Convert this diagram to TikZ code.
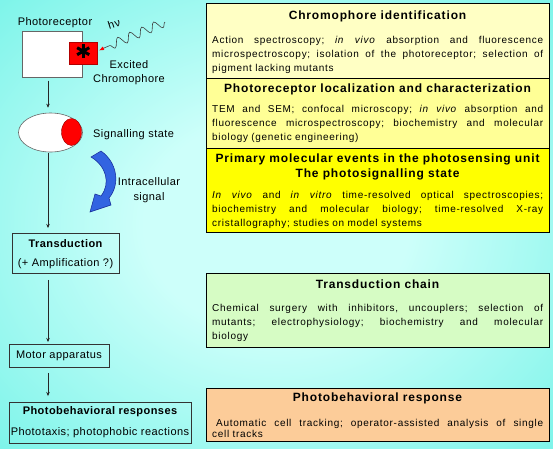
\documentclass[tikz,border=0pt]{standalone}
\usepackage{fontspec}
\setmainfont{Liberation Sans}[LetterSpace=4]
\newfontfamily\bodyfont{Liberation Sans}[LetterSpace=7]
\usetikzlibrary{shapes.geometric,arrows.meta,decorations.pathmorphing,calc}
\definecolor{bgdark}{RGB}{60,235,220}
\definecolor{bglight}{RGB}{205,255,250}
\definecolor{yel1}{RGB}{255,255,196}
\definecolor{yel2}{RGB}{255,255,150}
\definecolor{yel3}{RGB}{255,255,0}
\definecolor{grn}{RGB}{214,252,196}
\definecolor{peach}{RGB}{252,204,153}
\definecolor{arrblue}{RGB}{50,100,225}
\definecolor{arrdark}{RGB}{20,40,150}
\pgfdeclareradialshading{bgsh}{\pgfpoint{0bp}{0bp}}{color(0bp)=(bglight); color(12bp)=(bglight); color(55bp)=(bgdark); color(75bp)=(bgdark)}
\newcommand{\jl}[1]{\leavevmode\hbox to 331pt{#1}}
\newcommand{\wsp}{\hspace{0pt plus 1fill}\ }
\begin{document}
\begin{tikzpicture}[x=1pt,y=-1pt,
 rbox/.style={draw=black, line width=0.8pt, anchor=north west, minimum width=343pt, inner sep=0pt},
 lbox/.style={draw=black!80, line width=0.8pt, anchor=north west, inner sep=0pt},
 ttl/.style={font=\bodyfont\fontsize{12}{14}\selectfont\bfseries, inner sep=0pt, anchor=base},
 bodytxt/.style={font=\bodyfont\fontsize{10}{14}\selectfont, inner sep=0pt, anchor=north west, text width=331pt, align=left},
 lbl/.style={font=\fontsize{11}{14}\selectfont, inner sep=0pt},
 arr/.style={draw=black!85, line width=0.6pt, -{Stealth[length=4pt,width=3.5pt]}}]
\shade[shading=bgsh] (0,0) rectangle (553,448);
\useasboundingbox (0,0) rectangle (553,448);
% right boxes
\node[rbox, fill=yel1, minimum height=75pt] (b1) at (206,3) {};
\node[rbox, fill=yel2, minimum height=70pt] (b2) at (206,78) {};
\node[rbox, fill=yel3, minimum height=84pt] (b3) at (206,148) {};
\node[rbox, fill=grn, minimum height=74pt] (b4) at (206,273) {};
\node[rbox, fill=peach, minimum height=53pt] (b5) at (206,388) {};
\node[ttl] (t1) at (377.5,19.5) {Chromophore identification};
\node[ttl] (t2) at (377.5,92.5) {Photoreceptor localization and characterization};
\node[ttl] (t3a) at (377.5,162.5) {Primary molecular events in the photosensing unit};
\node[ttl] (t3b) at (377.5,177.5) {The photosignalling state};
\node[ttl] (t4) at (377.5,288.5) {Transduction chain};
\node[ttl] (t5) at (377.5,401.5) {Photobehavioral response};
\node[bodytxt] (x1) at (212,36) {\jl{Action\wsp spectroscopy;\wsp \textit{in}\wsp \textit{vivo}\wsp absorption\wsp and\wsp fluorescence}\\\jl{microspectroscopy;\wsp isolation\wsp of\wsp the\wsp photoreceptor;\wsp selection\wsp of}\\pigment lacking mutants};
\node[bodytxt] (x2) at (212,105) {\jl{TEM\wsp and\wsp SEM;\wsp confocal\wsp microscopy;\wsp \textit{in}\wsp \textit{vivo}\wsp absorption\wsp and}\\\jl{fluorescence\wsp microspectroscopy;\wsp biochemistry\wsp and\wsp molecular}\\biology (genetic engineering)};
\node[bodytxt] (x3) at (212,191) {\jl{\textit{In}\wsp \textit{vivo}\wsp and\wsp \textit{in}\wsp \textit{vitro}\wsp time-resolved\wsp optical\wsp spectroscopies;}\\\jl{biochemistry\wsp and\wsp molecular\wsp biology;\wsp time-resolved\wsp X-ray}\\cristallography; studies on model systems};
\node[bodytxt] (x4) at (212,304) {\jl{Chemical\wsp surgery\wsp with\wsp inhibitors,\wsp uncouplers;\wsp selection\wsp of}\\\jl{mutants;\wsp electrophysiology;\wsp biochemistry\wsp and\wsp molecular}\\biology};
\node[bodytxt, font=\bodyfont\fontsize{10}{11.5}\selectfont] (x5) at (212,419) {\leavevmode\hspace*{4pt}\hbox to 327pt{Automatic\wsp cell\wsp tracking;\wsp operator-assisted\wsp analysis\wsp of\wsp single}\\cell tracks};
% left side
\node[lbl] (lphr) at (55,23) {Photoreceptor};
\node[draw=black!60, fill=white, line width=0.6pt, minimum width=60pt, minimum height=46pt, anchor=north west, inner sep=0pt] (prec) at (22,31) {};
\node[fill=red, draw=red!70!black, line width=0.4pt, minimum width=28pt, minimum height=22pt, inner sep=0pt, anchor=north west] (chro) at (69,42) {};
\coordinate (ast) at ($(chro.center)+(0,-2)$);
\foreach \a in {90,30,150} \draw[line width=3pt, black] ($(ast)+(\a:7)$) -- ($(ast)+(\a+180:7)$);
\coordinate (wv1) at (165,22);
\coordinate (wv0) at (104,48);
\coordinate (wvtip) at (99,50.5);
\draw[gray!50!black, line width=0.6pt, decorate, decoration={snake, amplitude=4.5pt, segment length=13pt}] (wv1) -- (wv0);
\draw[red, line width=0.8pt, -{Latex[length=5pt,width=4pt]}] (wv0) -- (wvtip);
\node[font=\fontsize{11}{13}\selectfont, rotate=18, inner sep=0pt] (hnu) at (114,24) {h\kern0.8pt ν};
\node[lbl, align=center] (lexc) at (129,73) {Excited\\Chromophore};
\node[ellipse, draw=black!60, fill=white, line width=0.6pt, minimum width=64pt, minimum height=39pt, inner sep=0pt] (sig) at (50.5,132.5) {};
\node[ellipse, fill=red, draw=red!60!black, line width=0.4pt, minimum width=20pt, minimum height=27pt, inner sep=0pt] (sigc) at (71.5,132) {};
\node[lbl, anchor=west] (lsig) at (93,135) {Signalling state};
\node[lbl, font=\fontsize{11}{15}\selectfont, align=center] (lint) at (149,190.5) {Intracellular\\signal};
\filldraw[fill=arrblue, draw=arrdark, line width=0.5pt]
 (91,157) -- (101,151) .. controls (118,163) and (120,185) .. (109,198) -- (111,205) -- (90,212) -- (95,194) -- (101,196) .. controls (111,183) and (106,166) .. (91,157) -- cycle;
\node[lbox, minimum width=107pt, minimum height=40pt] (tr) at (12,233) {};
\node[lbl, font=\fontsize{11}{14}\selectfont\bfseries] (trt) at (65.5,244) {Transduction};
\node[lbl] (tra) at (65.5,264) {(+ Amplification ?)};
\node[lbox, minimum width=100pt, minimum height=23pt] (mot) at (9,344) {};
\node[lbl] (mott) at (59,356) {Motor apparatus};
\node[lbox, minimum width=182pt, minimum height=41pt] (pb) at (9,402) {};
\node[lbl, font=\fontsize{11}{14}\selectfont\bfseries] (pbt) at (100,412) {Photobehavioral responses};
\node[lbl] (pbb) at (100,433) {Phototaxis; photophobic reactions};
\coordinate (ax) at (48,0);
\draw[arr, shorten <=3pt, shorten >=5pt] (prec.south -| ax) -- (sig.north -| ax);
\draw[arr, shorten <=1pt, shorten >=5pt] (sig.south -| ax) -- (tr.north -| ax);
\draw[arr, shorten <=6pt, shorten >=2pt] (tr.south -| ax) -- (mot.north -| ax);
\draw[arr, shorten <=5pt, shorten >=6pt] (mot.south -| ax) -- (pb.north -| ax);
\end{tikzpicture}
\end{document}
